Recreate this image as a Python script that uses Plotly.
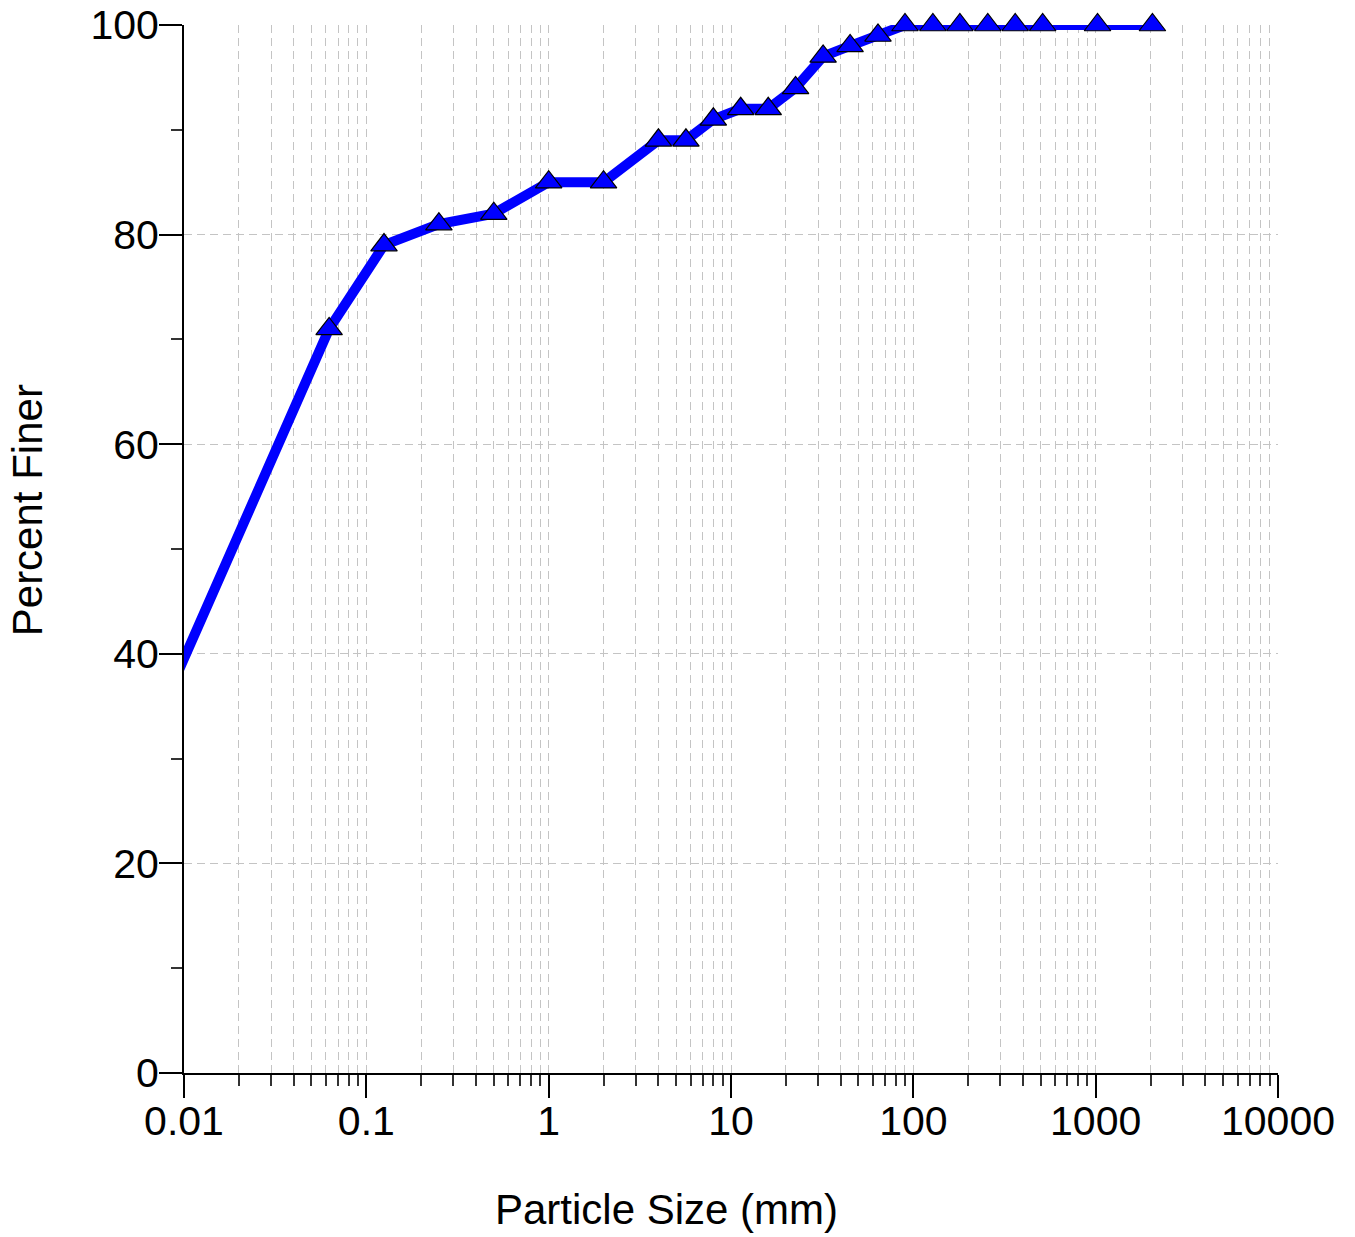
import plotly.graph_objects as go

# Grain-size distribution (sieve analysis)
particle_size_mm = [0.001, 0.0625, 0.125, 0.25, 0.5, 1, 2, 4, 5.66, 8, 11.3, 16, 22.6,
                    32, 45, 64, 90, 128, 180, 256, 362, 512, 1024, 2048]
percent_finer = [0, 71, 79, 81, 82, 85, 85, 89, 89, 91, 92, 92, 94,
                 97, 98, 99, 100, 100, 100, 100, 100, 100, 100, 100]

x_tick_vals = [0.01, 0.1, 1, 10, 100, 1000, 10000]
x_tick_text = ["0.01", "0.1", "1", "10", "100", "1000", "10000"]

FONT = "Liberation Sans, Arial, sans-serif"
GRID = "#c4c4c4"
BLUE = "#0000ff"

# the curve's starting point lies outside the visible range: keep it for the
# line but give it no marker
marker_sizes = [0] + [23] * (len(particle_size_mm) - 1)

fig = go.Figure()
fig.add_trace(go.Scatter(
    x=particle_size_mm,
    y=percent_finer,
    mode="lines+markers",
    line=dict(color=BLUE, width=10),
    marker=dict(symbol="triangle-up", size=marker_sizes, color=BLUE, opacity=1,
                line=dict(color="black", width=1.2)),
    cliponaxis=False,
    showlegend=False,
))

fig.update_layout(
    width=1355, height=1237,
    margin=dict(l=184, r=77, t=25, b=164),
    paper_bgcolor="white", plot_bgcolor="white",
    font=dict(family=FONT, size=41, color="black"),
)

fig.update_xaxes(
    type="log", range=[-2, 4], automargin=False,
    tickmode="array", tickvals=x_tick_vals, ticktext=x_tick_text,
    ticks="outside", ticklen=23, tickwidth=2, tickcolor="black",
    ticklabelstandoff=-12,
    showline=True, linewidth=2, linecolor="black",
    showgrid=True, gridcolor=GRID, gridwidth=1, griddash="8px,5px",
    zeroline=False,
    minor=dict(dtick="D1", ticks="outside", ticklen=11, tickwidth=1.5,
               tickcolor="#333333", showgrid=True, gridcolor=GRID,
               gridwidth=1, griddash="8px,5px"),
    tickfont=dict(size=41),
)

fig.update_yaxes(
    range=[0, 100], dtick=20, tick0=0, automargin=False,
    ticks="outside", ticklen=23, tickwidth=2, tickcolor="black",
    ticklabelstandoff=-8,
    showline=True, linewidth=2, linecolor="black",
    showgrid=True, gridcolor=GRID, gridwidth=1, griddash="8px,5px",
    zeroline=False,
    minor=dict(dtick=10, ticks="outside", ticklen=11, tickwidth=1.5,
               tickcolor="#333333", showgrid=False),
    tickfont=dict(size=41),
)

# axis titles
fig.add_annotation(text="Particle Size (mm)", xref="paper", yref="paper",
                   x=0.4406, y=-0.1307, xanchor="center", yanchor="middle",
                   showarrow=False, font=dict(size=42))
fig.add_annotation(text="Percent Finer", xref="paper", yref="paper",
                   x=-0.1435, y=0.537, xanchor="center", yanchor="middle",
                   textangle=-90, showarrow=False, font=dict(size=42))

fig.write_html("out.html")
